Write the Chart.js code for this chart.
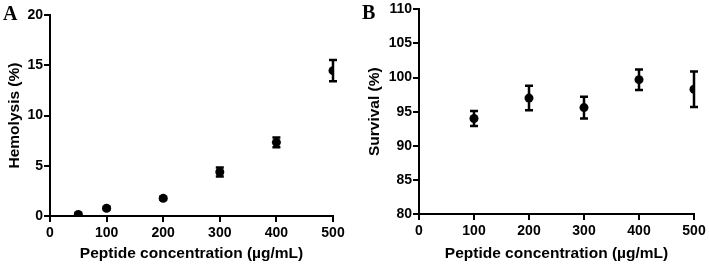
<!DOCTYPE html>
<html><head><meta charset="utf-8">
<script src="https://cdn.jsdelivr.net/npm/chart.js@4.4.0/dist/chart.umd.min.js"></script>
<style>
html,body{margin:0;padding:0;background:#fff;}
#wrap{position:relative;width:709px;height:267px;overflow:hidden;}
.cv{position:absolute;top:0;}
.lab{position:absolute;font-family:"Liberation Serif","Times New Roman",serif;font-weight:bold;font-size:20px;line-height:20px;color:#000;}
</style></head>
<body>
<div id="wrap">
  <div class="cv" style="left:0;width:360px;height:267px;"><canvas id="cA" width="360" height="267"></canvas></div>
  <div class="cv" style="left:360px;width:349px;height:267px;"><canvas id="cB" width="349" height="267"></canvas></div>
  <div class="lab" style="left:3px;top:3px;">A</div>
  <div class="lab" style="left:362px;top:2px;">B</div>
</div>
<script>
// Panel A: hemolysis
const concA = [50, 100, 200, 300, 400, 500];
const hemolysis = [0.15, 0.77, 1.76, 4.38, 7.33, 14.46];
const hemolysisErr = [0.1, 0.15, 0.15, 0.45, 0.48, 1.05];
// Panel B: survival
const concB = [100, 200, 300, 400, 500];
const survival = [94.0, 97.0, 95.6, 99.7, 98.3];
const survivalErr = [1.1, 1.8, 1.6, 1.5, 2.6];
const xTicks = [0, 100, 200, 300, 400, 500];
const yTicksA = [0, 5, 10, 15, 20];
const yTicksB = [80, 85, 90, 95, 100, 105, 110];

const TICKFONT = "'Liberation Sans Narrow', 'Arial Narrow', 'Liberation Sans', Arial, sans-serif";
const FONT = "'Liberation Sans', Arial, sans-serif";

const errorBars = {
  id: 'errorBars',
  afterDatasetsDraw(chart) {
    const ctx = chart.ctx;
    const ys = chart.scales.y, xs = chart.scales.x;
    chart.data.datasets.forEach(ds => {
      const errs = ds.errors || [];
      ds.data.forEach((p, i) => {
        const e = errs[i];
        if (!e) return;
        const px = xs.getPixelForValue(p.x);
        const top = ys.getPixelForValue(p.y + e);
        const bot = ys.getPixelForValue(p.y - e);
        ctx.save();
        ctx.strokeStyle = '#000';
        ctx.lineWidth = 2.5;
        ctx.beginPath();
        ctx.moveTo(px, top); ctx.lineTo(px, bot);
        ctx.moveTo(px - 4, top); ctx.lineTo(px + 4, top);
        ctx.moveTo(px - 4, bot); ctx.lineTo(px + 4, bot);
        ctx.stroke();
        ctx.restore();
      });
    });
  }
};

// Outward tick marks drawn from the library's own scale ticks
const tickMarks = {
  id: 'tickMarks',
  afterDraw(chart) {
    const ctx = chart.ctx;
    const xs = chart.scales.x, ys = chart.scales.y;
    const area = chart.chartArea;
    ctx.save();
    ctx.strokeStyle = '#000';
    ctx.lineWidth = 2;
    ctx.beginPath();
    xs.ticks.forEach(t => {
      const px = Math.round(xs.getPixelForValue(t.value));
      ctx.moveTo(px, area.bottom); ctx.lineTo(px, area.bottom + 6);
    });
    ys.ticks.forEach(t => {
      const py = Math.round(ys.getPixelForValue(t.value));
      ctx.moveTo(area.left, py); ctx.lineTo(area.left - 6, py);
    });
    ctx.stroke();
    ctx.restore();
  }
};

function makeChart(id, xs, ys, errs, yMin, yMax, yTickVals, yTitle, yW, xH, pad) {
  const gridOpts = { display: true, drawOnChartArea: false, drawTicks: true, color: '#000',
                     tickColor: '#000', tickLength: 6, tickWidth: 2, lineWidth: 2 };
  return new Chart(document.getElementById(id), {
    type: 'scatter',
    data: { datasets: [{
      data: xs.map((x, i) => ({ x: x, y: ys[i] })),
      errors: errs,
      backgroundColor: '#000', borderColor: '#000',
      pointRadius: 4.5, pointHoverRadius: 4.5, borderWidth: 0
    }]},
    options: {
      responsive: false, animation: false,
      layout: { padding: pad },
      plugins: { legend: { display: false }, tooltip: { enabled: false } },
      scales: {
        x: {
          type: 'linear', min: 0, max: 500,
          afterBuildTicks: s => { s.ticks = xTicks.map(v => ({ value: v })); },
          afterFit: s => { s.height = xH; },
          border: { display: true, color: '#000', width: 2 },
          grid: gridOpts,
          ticks: { color: '#000', font: { family: TICKFONT, size: 14, weight: 'bold' }, padding: 3, maxRotation: 0 },
          title: { display: true, text: 'Peptide concentration (µg/mL)', color: '#000',
                   font: { family: FONT, size: 15.5, weight: 'bold' }, padding: { top: 0, bottom: 4 } }
        },
        y: {
          type: 'linear', min: yMin, max: yMax,
          afterBuildTicks: s => { s.ticks = yTickVals.map(v => ({ value: v })); },
          afterFit: s => { s.width = yW; },
          border: { display: true, color: '#000', width: 2 },
          grid: gridOpts,
          ticks: { color: '#000', font: { family: TICKFONT, size: 14, weight: 'bold' }, padding: 1 },
          title: { display: true, text: yTitle, color: '#000',
                   font: { family: FONT, size: 15.5, weight: 'bold' }, padding: { top: 5, bottom: 0 } }
        }
      }
    },
    plugins: [errorBars, tickMarks]
  });
}

makeChart('cA', concA, hemolysis, hemolysisErr, 0, 20, yTicksA, 'Hemolysis (%)', 50, 51, { left: 0, right: 27, top: 15, bottom: 0 });
makeChart('cB', concB, survival, survivalErr, 80, 110, yTicksB, 'Survival (%)', 59, 53, { left: 0, right: 15, top: 9, bottom: 0 });
</script>
</body></html>
